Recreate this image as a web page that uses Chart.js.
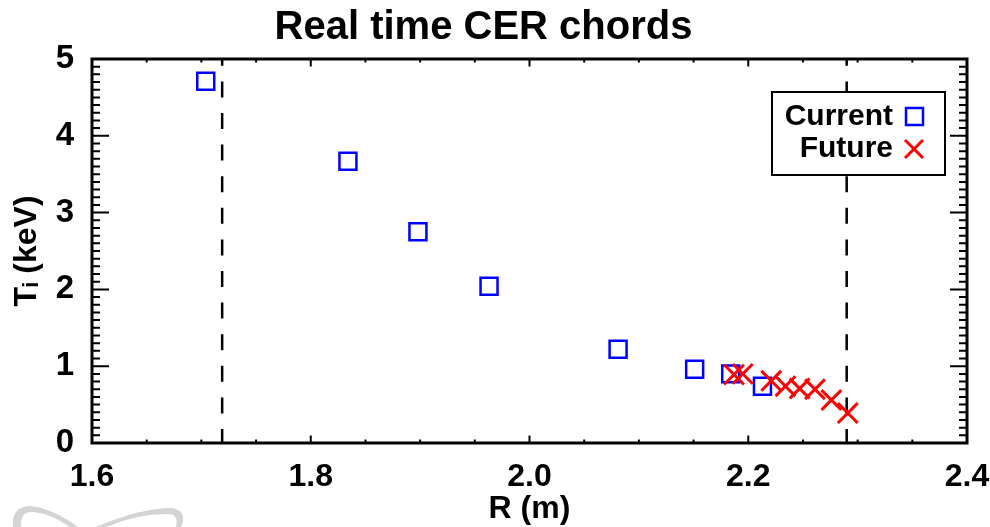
<!doctype html>
<html>

<head>
	<title>Real time CER chords</title>
	<script src="https://cdn.jsdelivr.net/npm/chart.js@4/dist/chart.umd.min.js"></script>
	<style>
		body { margin: 0; background: #fff; }
		#holder { width: 990px; height: 527px; }
	</style>
</head>

<body>
	<div id="holder"><canvas id="chart"></canvas></div>
	<script>
		// chord radii (m) and ion temperatures (keV)
		const currentR = [1.704, 1.834, 1.898, 1.963, 2.081, 2.151, 2.184, 2.213];
		const currentTi = [4.71, 3.67, 2.75, 2.04, 1.22, 0.96, 0.90, 0.74];
		const futureR = [2.187, 2.195, 2.221, 2.234, 2.247, 2.261, 2.276, 2.291];
		const futureTi = [0.89, 0.90, 0.81, 0.74, 0.71, 0.70, 0.56, 0.39];
		// dashed vertical limits
		const limitR = [1.719, 2.290];
		const xRange = [1.6, 2.4];
		const yRange = [0, 5];

		const FONT = "'Liberation Sans', Arial, Helvetica, sans-serif";

		const toPoints = (xs, ys) => xs.map((v, i) => ({x: v, y: ys[i]}));

		// IDL style box with inward ticks on all four sides
		const frame = {
			id: 'frame',
			afterDatasetsDraw(chart) {
				const {ctx, chartArea: a, scales: {x, y}} = chart;
				ctx.save();
				ctx.strokeStyle = '#000';
				ctx.lineWidth = 2;
				ctx.beginPath();
				for (let i = 0; i <= 16; i++) {
					const px = x.getPixelForValue(xRange[0] + i * 0.05);
					const len = i % 4 === 0 ? 7.5 : 3.5;
					ctx.moveTo(px, a.bottom);
					ctx.lineTo(px, a.bottom - len);
					ctx.moveTo(px, a.top);
					ctx.lineTo(px, a.top + len);
				}
				for (let i = 0; i <= 50; i++) {
					const py = y.getPixelForValue(i * 0.1);
					const len = i % 10 === 0 ? 17 : 8;
					ctx.moveTo(a.left, py);
					ctx.lineTo(a.left + len, py);
					ctx.moveTo(a.right, py);
					ctx.lineTo(a.right - len, py);
				}
				ctx.stroke();
				ctx.lineWidth = 3;
				ctx.strokeRect(a.left, a.top, a.width, a.height);
				ctx.restore();
			}
		};

		// boxed legend, text first then marker
		const boxLegend = {
			id: 'boxLegend',
			afterDraw(chart) {
				const {ctx} = chart;
				ctx.save();
				ctx.fillStyle = '#fff';
				ctx.fillRect(772, 92, 173, 83);
				ctx.strokeStyle = '#000';
				ctx.lineWidth = 2;
				ctx.strokeRect(772, 92, 173, 83);
				ctx.font = 'bold 30px ' + FONT;
				ctx.fillStyle = '#000';
				ctx.textAlign = 'right';
				ctx.textBaseline = 'middle';
				ctx.fillText('Current', 893, 117);
				ctx.fillText('Future', 893, 149);
				ctx.lineWidth = 2.5;
				ctx.strokeStyle = '#0000ff';
				ctx.strokeRect(906, 108, 17, 17);
				ctx.strokeStyle = '#ff0000';
				ctx.lineWidth = 3;
				ctx.beginPath();
				ctx.moveTo(905, 140);
				ctx.lineTo(923, 158);
				ctx.moveTo(923, 140);
				ctx.lineTo(905, 158);
				ctx.stroke();
				ctx.restore();
			}
		};

		// faint logo in the lower left corner
		const watermark = {
			id: 'watermark',
			afterDraw(chart) {
				const {ctx} = chart;
				ctx.save();
				ctx.fillStyle = '#d4d4d4';
				ctx.beginPath();
				ctx.moveTo(13, 527);
				ctx.quadraticCurveTo(11, 507, 30, 506);
				ctx.quadraticCurveTo(52, 508, 78, 527);
				ctx.lineTo(70, 527);
				ctx.quadraticCurveTo(48, 512, 30, 512);
				ctx.quadraticCurveTo(20, 513, 21, 527);
				ctx.closePath();
				ctx.fill();
				ctx.beginPath();
				ctx.moveTo(96, 527);
				ctx.quadraticCurveTo(140, 508, 172, 508);
				ctx.quadraticCurveTo(188, 511, 181, 527);
				ctx.lineTo(176, 527);
				ctx.quadraticCurveTo(179, 514, 168, 514);
				ctx.quadraticCurveTo(136, 514, 106, 527);
				ctx.closePath();
				ctx.fill();
				ctx.restore();
			}
		};

		const config = {
			type: 'scatter',
			data: {
				datasets: [{
					label: 'Future',
					data: toPoints(futureR, futureTi),
					pointStyle: 'crossRot',
					pointRadius: 14,
					borderColor: '#ff0000',
					borderWidth: 3,
					order: 0
				}, {
					label: 'Current',
					data: toPoints(currentR, currentTi),
					pointStyle: 'rect',
					pointRadius: 12,
					backgroundColor: 'rgba(0,0,0,0)',
					borderColor: '#0000ff',
					borderWidth: 2.5,
					order: 1
				}, {
					label: 'limit1',
					data: [{x: limitR[0], y: yRange[0]}, {x: limitR[0], y: yRange[1]}],
					showLine: true,
					pointRadius: 0,
					borderColor: '#000',
					borderWidth: 2.5,
					borderDash: [16, 15.6],
					borderDashOffset: 2,
					order: 2
				}, {
					label: 'limit2',
					data: [{x: limitR[1], y: yRange[0]}, {x: limitR[1], y: yRange[1]}],
					showLine: true,
					pointRadius: 0,
					borderColor: '#000',
					borderWidth: 2.5,
					borderDash: [16, 15.6],
					borderDashOffset: 2,
					order: 2
				}]
			},
			options: {
				responsive: true,
				maintainAspectRatio: false,
				animation: false,
				events: [],
				layout: {padding: {left: 0, right: 23, top: 0, bottom: 0}},
				plugins: {
					legend: {display: false},
					tooltip: {enabled: false},
					title: {
						display: true,
						text: 'Real time CER chords',
						color: '#000',
						font: {family: FONT, size: 40, weight: 'bold', lineHeight: 1},
						padding: {top: 8, bottom: 11}
					}
				},
				scales: {
					x: {
						type: 'linear',
						min: xRange[0],
						max: xRange[1],
						grid: {display: false},
						border: {display: false},
						ticks: {
							stepSize: 0.2,
							autoSkip: false,
							maxRotation: 0,
							padding: 7,
							color: '#000',
							font: {family: FONT, size: 32, weight: 'bold'},
							callback: (v) => Number(v).toFixed(1)
						},
						title: {
							display: true,
							text: 'R (m)',
							color: '#000',
							font: {family: FONT, size: 32, weight: 'bold', lineHeight: 1.1},
							padding: {top: 0, bottom: 0}
						},
						afterFit(scale) {
							scale.height = 84;
							scale.paddingLeft = 0;
							scale.paddingRight = 0;
						}
					},
					y: {
						min: yRange[0],
						max: yRange[1],
						grid: {display: false},
						border: {display: false},
						ticks: {
							stepSize: 1,
							padding: 10,
							color: '#000',
							font: {family: FONT, size: 33, weight: 'bold'}
						},
						title: {
							display: true,
							text: 'Tᵢ (keV)',
							color: '#000',
							font: {family: FONT, size: 32, weight: 'bold', lineHeight: 1.2},
							padding: {top: 8, bottom: 0}
						},
						afterFit(scale) {
							scale.width = 92;
							scale.paddingTop = 0;
							scale.paddingBottom = 0;
						}
					}
				}
			},
			plugins: [frame, boxLegend, watermark]
		};

		window.onload = function() {
			const ctx = document.getElementById('chart').getContext('2d');
			window.myChart = new Chart(ctx, config);
		};
	</script>
</body>

</html>
